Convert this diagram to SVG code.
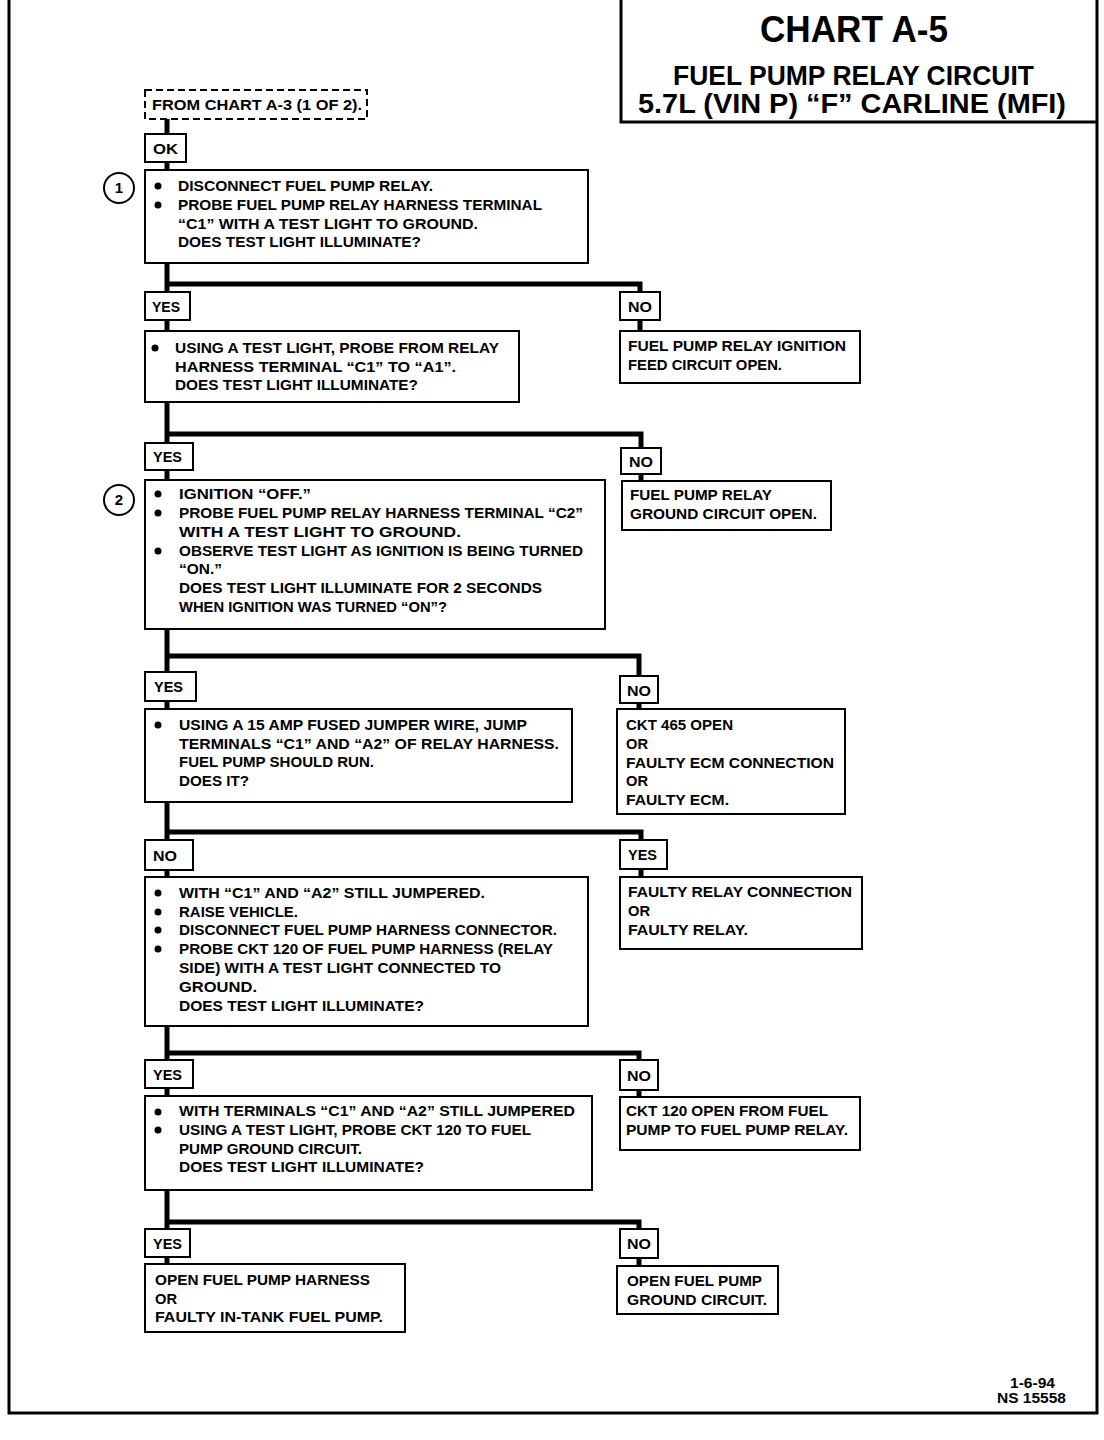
<svg xmlns="http://www.w3.org/2000/svg" width="1104" height="1440" viewBox="0 0 1104 1440">
<style>
text{font-family:"Liberation Sans",Arial,sans-serif;font-weight:bold;font-size:15px;fill:#000}
.box{fill:#fff;stroke:#000;stroke-width:2}
.dash{fill:#fff;stroke:#000;stroke-width:2;stroke-dasharray:7,4}
.conn{fill:none;stroke:#000;stroke-width:5}
.frame{fill:none;stroke:#000;stroke-width:3}
.bul{fill:#000}
.t1{font-size:37px}
.t2{font-size:27px}
</style>
<rect width="1104" height="1440" fill="#fff"/>
<g id="frame">
<path class="frame" d="M9 0 V1413 H1097 V0"/>
<path class="frame" d="M621 0 V122 H1097"/>
</g>
<g id="title">
<text class="t1" x="760" y="42" textLength="188" lengthAdjust="spacingAndGlyphs">CHART A-5</text>
<text class="t2" x="673" y="85" textLength="361" lengthAdjust="spacingAndGlyphs">FUEL PUMP RELAY CIRCUIT</text>
<text class="t2" x="638" y="113" textLength="428" lengthAdjust="spacingAndGlyphs">5.7L  (VIN P)  “F”  CARLINE  (MFI)</text>
</g>
<g id="connectors">
<path class="conn" d="M167 119 V134 M167 162 V170 M167 263 V292 M165 284 H640 V292 M167 320 V331 M640 320 V331"/>
<path class="conn" d="M167 402 V443 M165 434 H641 V448 M167 470 V480 M641 474 V481"/>
<path class="conn" d="M167 629 V672 M165 656 H639 V676 M167 701 V709 M639 703 V709"/>
<path class="conn" d="M167 802 V840 M165 832 H641 V840 M167 870 V877 M641 869 V877"/>
<path class="conn" d="M167 1026 V1060 M165 1053 H639 V1060 M167 1088 V1096 M639 1090 V1097"/>
<path class="conn" d="M167 1190 V1229 M165 1222 H639 V1229 M167 1257 V1264 M639 1258 V1266"/>
</g>
<g id="start">
<rect class="dash" x="145" y="90" width="222" height="29"/>
<text x="152" y="110" textLength="210" lengthAdjust="spacingAndGlyphs">FROM CHART A-3 (1 OF 2).</text>
</g>
<g id="ok">
<rect class="box" x="145" y="134" width="41" height="28"/>
<text x="153" y="154" textLength="25" lengthAdjust="spacingAndGlyphs">OK</text>
</g>
<g id="step1">
<circle class="box" cx="119" cy="188" r="15"/>
<text x="119" y="193" text-anchor="middle">1</text>
<rect class="box" x="145" y="170" width="443" height="93"/>
<circle class="bul" cx="158" cy="186" r="3.5"/><circle class="bul" cx="158" cy="205" r="3.5"/>
<text x="178" y="191" textLength="255" lengthAdjust="spacingAndGlyphs">DISCONNECT FUEL PUMP RELAY.</text>
<text x="178" y="210" textLength="364" lengthAdjust="spacingAndGlyphs">PROBE FUEL PUMP RELAY HARNESS TERMINAL</text>
<text x="178" y="229" textLength="300" lengthAdjust="spacingAndGlyphs">“C1” WITH A TEST LIGHT TO GROUND.</text>
<text x="178" y="247" textLength="243" lengthAdjust="spacingAndGlyphs">DOES TEST LIGHT ILLUMINATE?</text>
</g>
<g id="yes1">
<rect class="box" x="145" y="292" width="45" height="28"/>
<text x="152" y="312" textLength="28" lengthAdjust="spacingAndGlyphs">YES</text>
</g>
<g id="no1">
<rect class="box" x="620" y="292" width="40" height="28"/>
<text x="628" y="312" textLength="24" lengthAdjust="spacingAndGlyphs">NO</text>
</g>
<g id="step2">
<rect class="box" x="145" y="331" width="374" height="71"/>
<circle class="bul" cx="155" cy="348" r="3.5"/>
<text x="175" y="353" textLength="324" lengthAdjust="spacingAndGlyphs">USING A TEST LIGHT, PROBE FROM RELAY</text>
<text x="175" y="372" textLength="281" lengthAdjust="spacingAndGlyphs">HARNESS TERMINAL “C1” TO “A1”.</text>
<text x="175" y="390" textLength="243" lengthAdjust="spacingAndGlyphs">DOES TEST LIGHT ILLUMINATE?</text>
</g>
<g id="result1">
<rect class="box" x="620" y="331" width="240" height="52"/>
<text x="628" y="351" textLength="218" lengthAdjust="spacingAndGlyphs">FUEL PUMP RELAY IGNITION</text>
<text x="628" y="370" textLength="154" lengthAdjust="spacingAndGlyphs">FEED CIRCUIT OPEN.</text>
</g>
<g id="yes2">
<rect class="box" x="145" y="443" width="48" height="27"/>
<text x="153" y="462" textLength="29" lengthAdjust="spacingAndGlyphs">YES</text>
</g>
<g id="no2">
<rect class="box" x="621" y="448" width="40" height="26"/>
<text x="629" y="467" textLength="24" lengthAdjust="spacingAndGlyphs">NO</text>
</g>
<g id="step3">
<circle class="box" cx="119" cy="500" r="15"/>
<text x="119" y="505" text-anchor="middle">2</text>
<rect class="box" x="145" y="480" width="460" height="149"/>
<circle class="bul" cx="158" cy="494" r="3.5"/><circle class="bul" cx="158" cy="513" r="3.5"/><circle class="bul" cx="158" cy="551" r="3.5"/>
<text x="179" y="499" textLength="132" lengthAdjust="spacingAndGlyphs">IGNITION “OFF.”</text>
<text x="179" y="518" textLength="404" lengthAdjust="spacingAndGlyphs">PROBE FUEL PUMP RELAY HARNESS TERMINAL “C2”</text>
<text x="179" y="537" textLength="282" lengthAdjust="spacingAndGlyphs">WITH A TEST LIGHT TO GROUND.</text>
<text x="179" y="556" textLength="404" lengthAdjust="spacingAndGlyphs">OBSERVE TEST LIGHT AS IGNITION IS BEING TURNED</text>
<text x="179" y="574" textLength="43" lengthAdjust="spacingAndGlyphs">“ON.”</text>
<text x="179" y="593" textLength="363" lengthAdjust="spacingAndGlyphs">DOES TEST LIGHT ILLUMINATE FOR 2 SECONDS</text>
<text x="179" y="612" textLength="268" lengthAdjust="spacingAndGlyphs">WHEN IGNITION WAS TURNED “ON”?</text>
</g>
<g id="result2">
<rect class="box" x="622" y="481" width="209" height="49"/>
<text x="630" y="500" textLength="142" lengthAdjust="spacingAndGlyphs">FUEL PUMP RELAY</text>
<text x="630" y="519" textLength="187" lengthAdjust="spacingAndGlyphs">GROUND CIRCUIT OPEN.</text>
</g>
<g id="yes3">
<rect class="box" x="145" y="672" width="51" height="29"/>
<text x="154" y="692" textLength="29" lengthAdjust="spacingAndGlyphs">YES</text>
</g>
<g id="no3">
<rect class="box" x="620" y="676" width="38" height="27"/>
<text x="627" y="696" textLength="24" lengthAdjust="spacingAndGlyphs">NO</text>
</g>
<g id="step4">
<rect class="box" x="145" y="709" width="427" height="93"/>
<circle class="bul" cx="158" cy="725" r="3.5"/>
<text x="179" y="730" textLength="348" lengthAdjust="spacingAndGlyphs">USING A 15 AMP FUSED JUMPER WIRE, JUMP</text>
<text x="179" y="749" textLength="380" lengthAdjust="spacingAndGlyphs">TERMINALS “C1” AND “A2” OF RELAY HARNESS.</text>
<text x="179" y="767" textLength="195" lengthAdjust="spacingAndGlyphs">FUEL PUMP SHOULD RUN.</text>
<text x="179" y="786" textLength="70" lengthAdjust="spacingAndGlyphs">DOES IT?</text>
</g>
<g id="result3">
<rect class="box" x="617" y="709" width="228" height="105"/>
<text x="626" y="730" textLength="107" lengthAdjust="spacingAndGlyphs">CKT 465 OPEN</text>
<text x="626" y="749" textLength="22" lengthAdjust="spacingAndGlyphs">OR</text>
<text x="626" y="768" textLength="208" lengthAdjust="spacingAndGlyphs">FAULTY ECM CONNECTION</text>
<text x="626" y="786" textLength="22" lengthAdjust="spacingAndGlyphs">OR</text>
<text x="626" y="805" textLength="103" lengthAdjust="spacingAndGlyphs">FAULTY ECM.</text>
</g>
<g id="no4">
<rect class="box" x="145" y="840" width="48" height="30"/>
<text x="153" y="861" textLength="24" lengthAdjust="spacingAndGlyphs">NO</text>
</g>
<g id="yes4">
<rect class="box" x="620" y="840" width="47" height="29"/>
<text x="628" y="860" textLength="29" lengthAdjust="spacingAndGlyphs">YES</text>
</g>
<g id="step5">
<rect class="box" x="145" y="877" width="443" height="149"/>
<circle class="bul" cx="158" cy="893" r="3.5"/><circle class="bul" cx="158" cy="912" r="3.5"/><circle class="bul" cx="158" cy="930" r="3.5"/><circle class="bul" cx="158" cy="949" r="3.5"/>
<text x="179" y="898" textLength="306" lengthAdjust="spacingAndGlyphs">WITH “C1” AND “A2” STILL JUMPERED.</text>
<text x="179" y="917" textLength="119" lengthAdjust="spacingAndGlyphs">RAISE VEHICLE.</text>
<text x="179" y="935" textLength="378" lengthAdjust="spacingAndGlyphs">DISCONNECT FUEL PUMP HARNESS CONNECTOR.</text>
<text x="179" y="954" textLength="374" lengthAdjust="spacingAndGlyphs">PROBE CKT 120 OF FUEL PUMP HARNESS (RELAY</text>
<text x="179" y="973" textLength="322" lengthAdjust="spacingAndGlyphs">SIDE) WITH A TEST LIGHT CONNECTED TO</text>
<text x="179" y="992" textLength="78" lengthAdjust="spacingAndGlyphs">GROUND.</text>
<text x="179" y="1011" textLength="245" lengthAdjust="spacingAndGlyphs">DOES TEST LIGHT ILLUMINATE?</text>
</g>
<g id="result4">
<rect class="box" x="620" y="877" width="242" height="72"/>
<text x="628" y="897" textLength="224" lengthAdjust="spacingAndGlyphs">FAULTY RELAY CONNECTION</text>
<text x="628" y="916" textLength="22" lengthAdjust="spacingAndGlyphs">OR</text>
<text x="628" y="935" textLength="120" lengthAdjust="spacingAndGlyphs">FAULTY RELAY.</text>
</g>
<g id="yes5">
<rect class="box" x="145" y="1060" width="48" height="28"/>
<text x="153" y="1080" textLength="29" lengthAdjust="spacingAndGlyphs">YES</text>
</g>
<g id="no5">
<rect class="box" x="620" y="1060" width="38" height="30"/>
<text x="627" y="1081" textLength="24" lengthAdjust="spacingAndGlyphs">NO</text>
</g>
<g id="step6">
<rect class="box" x="145" y="1096" width="447" height="94"/>
<circle class="bul" cx="158" cy="1112" r="3.5"/><circle class="bul" cx="158" cy="1130" r="3.5"/>
<text x="179" y="1116" textLength="396" lengthAdjust="spacingAndGlyphs">WITH TERMINALS “C1” AND “A2” STILL JUMPERED</text>
<text x="179" y="1135" textLength="352" lengthAdjust="spacingAndGlyphs">USING A TEST LIGHT, PROBE CKT 120 TO FUEL</text>
<text x="179" y="1154" textLength="183" lengthAdjust="spacingAndGlyphs">PUMP GROUND CIRCUIT.</text>
<text x="179" y="1172" textLength="245" lengthAdjust="spacingAndGlyphs">DOES TEST LIGHT ILLUMINATE?</text>
</g>
<g id="result5">
<rect class="box" x="620" y="1097" width="240" height="53"/>
<text x="626" y="1116" textLength="202" lengthAdjust="spacingAndGlyphs">CKT 120 OPEN FROM FUEL</text>
<text x="626" y="1135" textLength="222" lengthAdjust="spacingAndGlyphs">PUMP TO FUEL PUMP RELAY.</text>
</g>
<g id="yes6">
<rect class="box" x="145" y="1229" width="45" height="28"/>
<text x="153" y="1249" textLength="29" lengthAdjust="spacingAndGlyphs">YES</text>
</g>
<g id="no6">
<rect class="box" x="620" y="1229" width="38" height="29"/>
<text x="627" y="1249" textLength="24" lengthAdjust="spacingAndGlyphs">NO</text>
</g>
<g id="result6">
<rect class="box" x="145" y="1264" width="260" height="68"/>
<text x="155" y="1285" textLength="215" lengthAdjust="spacingAndGlyphs">OPEN FUEL PUMP HARNESS</text>
<text x="155" y="1304" textLength="22" lengthAdjust="spacingAndGlyphs">OR</text>
<text x="155" y="1322" textLength="228" lengthAdjust="spacingAndGlyphs">FAULTY IN-TANK FUEL PUMP.</text>
</g>
<g id="result7">
<rect class="box" x="617" y="1266" width="161" height="48"/>
<text x="627" y="1286" textLength="135" lengthAdjust="spacingAndGlyphs">OPEN FUEL PUMP</text>
<text x="627" y="1305" textLength="140" lengthAdjust="spacingAndGlyphs">GROUND CIRCUIT.</text>
</g>
<g id="footer">
<text x="1010" y="1388" font-size="14" textLength="45" lengthAdjust="spacingAndGlyphs">1-6-94</text>
<text x="997" y="1403" font-size="14" textLength="69" lengthAdjust="spacingAndGlyphs">NS 15558</text>
</g>
</svg>
